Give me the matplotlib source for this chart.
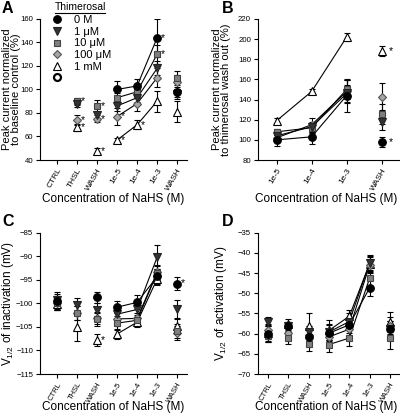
import numpy as np
import matplotlib
matplotlib.use("Agg")
import matplotlib.pyplot as plt
from matplotlib.lines import Line2D

plt.rcParams['font.family'] = ['Liberation Sans', 'DejaVu Sans']
plt.rcParams['mathtext.default'] = 'regular'

nan = np.nan
cats7 = ['CTRL', 'THSL', 'WASH', '1e-5', '1e-4', '1e-3', 'WASH']
cats4 = ['1e-5', '1e-4', '1e-3', 'WASH']
series = ['0 M', '1 \u03bcM', '10 \u03bcM', '100 \u03bcM', '1 mM']

# Panel A
A_vals = {
    '0 M':    [nan, nan, nan, 100, 103, 144, 98],
    '1 \u03bcM':  [nan, 88, 78, 86, 93, 118, 96],
    '10 \u03bcM': [nan, 90, 86, 93, 98, 130, 110],
    '100 \u03bcM': [nan, 74, 75, 77, 88, 110, 106],
    '1 mM':   [nan, 68, 48, 57, 70, 90, 81],
}
A_err = {
    '0 M':    [nan, nan, nan, 7, 6, 16, 4],
    '1 \u03bcM':  [nan, 3, 3, 4, 4, 6, 4],
    '10 \u03bcM': [nan, 3, 5, 4, 5, 8, 6],
    '100 \u03bcM': [nan, 4, 3, 7, 6, 8, 6],
    '1 mM':   [nan, 3, 2, 2, 4, 9, 9],
}
A_star = [('10 \u03bcM', 1), ('100 \u03bcM', 1), ('1 mM', 1), ('10 \u03bcM', 2), ('100 \u03bcM', 2),
          ('1 mM', 2), ('100 \u03bcM', 3), ('1 mM', 3), ('1 mM', 4), ('0 M', 5), ('10 \u03bcM', 5)]

# Panel B
B_vals = {
    '0 M':    [100, 103, 144, 98],
    '1 \u03bcM':  [104, 113, 146, 118],
    '10 \u03bcM': [108, 112, 150, 126],
    '100 \u03bcM': [102, 115, 148, 143],
    '1 mM':   [119, 148, 202, 188],
}
B_err = {
    '0 M':    [6, 7, 16, 5],
    '1 \u03bcM':  [4, 5, 8, 8],
    '10 \u03bcM': [3, 5, 9, 10],
    '100 \u03bcM': [4, 7, 11, 13],
    '1 mM':   [3, 2, 4, 5],
}
B_star = [('1 mM', 3), ('0 M', 3)]

# Panel C
C_vals = {
    '0 M':    [-99.6, nan, -98.7, -100.8, -99.8, -94.3, -95.8],
    '1 \u03bcM':  [-99.2, -100.3, -101.5, -102.3, -101.3, -90.2, -101.2],
    '10 \u03bcM': [-100.0, -102.0, -103.3, -104.2, -103.6, -93.5, -105.9],
    '100 \u03bcM': [-100.0, -102.1, -103.2, -103.3, -103.2, -93.4, -106.3],
    '1 mM':   [-100.2, -105.0, -107.8, -106.5, -104.0, -94.8, -104.8],
}
C_err = {
    '0 M':    [1.5, nan, 1.2, 1.3, 1.5, 1.5, 1.3],
    '1 \u03bcM':  [1.7, 1.5, 1.5, 1.5, 1.5, 2.5, 2.0],
    '10 \u03bcM': [1.5, 1.5, 1.5, 1.5, 1.2, 1.5, 1.5],
    '100 \u03bcM': [1.5, 1.5, 1.2, 1.5, 1.2, 1.5, 1.5],
    '1 mM':   [1.2, 3.0, 1.2, 1.0, 1.0, 1.2, 1.5],
}
C_star = [('1 mM', 2), ('0 M', 6)]

# Panel D
D_vals = {
    '0 M':    [-60.0, -58.2, -60.8, -59.9, -57.8, -48.7, -58.9],
    '1 \u03bcM':  [-57.0, -58.2, -59.7, -59.6, -57.0, -42.6, -58.9],
    '10 \u03bcM': [-60.5, -61.1, -62.5, -62.7, -61.1, -46.3, -61.1],
    '100 \u03bcM': [-59.0, -59.9, -60.3, -60.8, -58.9, -43.0, -58.0],
    '1 mM':   [-59.8, -57.5, -58.0, -59.2, -55.7, -42.7, -57.2],
}
D_err = {
    '0 M':    [2.0, 1.2, 2.0, 2.0, 2.0, 2.0, 2.0],
    '1 \u03bcM':  [1.2, 1.0, 1.5, 2.0, 2.0, 2.0, 2.0],
    '10 \u03bcM': [1.5, 1.4, 1.8, 1.8, 1.9, 2.0, 2.6],
    '100 \u03bcM': [1.5, 1.5, 1.8, 2.0, 2.0, 2.0, 2.0],
    '1 mM':   [2.0, 1.2, 3.0, 2.5, 1.5, 2.0, 2.5],
}

styles = {
    '0 M':    dict(marker='o', mfc='black', mec='black'),
    '1 \u03bcM':  dict(marker='v', mfc='#333333', mec='#222222'),
    '10 \u03bcM': dict(marker='s', mfc='#7f7f7f', mec='#444444'),
    '100 \u03bcM': dict(marker='D', mfc='#a6a6a6', mec='#555555'),
    '1 mM':   dict(marker='^', mfc='white', mec='black'),
}
msizes = {'0 M': 5.5, '1 \u03bcM': 5.5, '10 \u03bcM': 5, '100 \u03bcM': 4.5, '1 mM': 5.5}
order = ['1 mM', '100 \u03bcM', '10 \u03bcM', '1 \u03bcM', '0 M']

LABEL_FS = 8.5

fig = plt.figure(figsize=(4.0, 4.2), dpi=100)
axA = fig.add_axes([0.10, 0.619, 0.368, 0.336])
axB = fig.add_axes([0.645, 0.619, 0.355, 0.336])
axC = fig.add_axes([0.10, 0.1095, 0.368, 0.3365])
axD = fig.add_axes([0.645, 0.1095, 0.355, 0.3365])


def draw(ax, cats, vals, errs, line_idx, stars, ylim, yticks, tick_fs, xlab_x, xlab_y):
    x = np.arange(len(cats))
    for s in order:
        v = np.array(vals[s], float)
        e = np.array(errs[s], float)
        ax.plot(x[line_idx], v[line_idx], color='black', lw=0.8, zorder=2)
        ax.errorbar(x, v, yerr=e, fmt='none', ecolor='black', elinewidth=0.8,
                    capsize=2.2, capthick=0.8, zorder=3)
        st = styles[s]
        ax.plot(x, v, linestyle='none', marker=st['marker'], mfc=st['mfc'],
                mec=st['mec'], mew=0.8, ms=msizes[s], zorder=4)
    for s, i in stars:
        ax.text(x[i] + 0.2, vals[s][i], '*', fontsize=7.5, ha='left',
                va='center', zorder=5)
    ax.set_ylim(*ylim)
    ax.set_yticks(yticks)
    ax.set_xticks(x)
    ax.set_xticklabels(cats, rotation=60, ha='right', rotation_mode='anchor',
                       fontsize=tick_fs)
    ax.tick_params(axis='y', labelsize=5.6, length=3, width=0.8, pad=2)
    ax.tick_params(axis='x', length=3, width=0.8, pad=2)
    for sp in ['top', 'right']:
        ax.spines[sp].set_visible(False)
    for sp in ['left', 'bottom']:
        ax.spines[sp].set_linewidth(0.8)
    ax.set_xlabel('Concentration of NaHS (M)', fontsize=LABEL_FS, va='center')
    ax.xaxis.set_label_coords(xlab_x, xlab_y)


draw(axA, cats7, A_vals, A_err, [3, 4, 5], A_star, (40, 160), np.arange(40, 161, 20),
     6.0, 0.5, -0.277)
axA.set_xlim(-0.85, 6.5)
axA.set_ylabel('Peak current normalized\nto baseline control (%)', fontsize=8.0,
               linespacing=0.85, va='center')
axA.yaxis.set_label_coords(-0.195, 0.5)

draw(axB, cats4, B_vals, B_err, [0, 1, 2], B_star, (80, 220), np.arange(80, 221, 20),
     6.0, 0.48, -0.277)
axB.set_xlim(-0.53, 3.52)
axB.set_ylabel('Peak current normalized\nto thimerosal wash out (%)', fontsize=8.0,
               linespacing=0.85, va='center')
axB.yaxis.set_label_coords(-0.255, 0.5)

draw(axC, cats7, C_vals, C_err, [3, 4, 5], C_star, (-115, -85), np.arange(-115, -84, 5),
     5.5, 0.5, -0.23)
axC.set_xlim(-0.85, 6.5)
axC.set_ylabel('V$_{1/2}$ of inactivation (mV)', fontsize=LABEL_FS, va='center')
axC.yaxis.set_label_coords(-0.215, 0.5)

draw(axD, cats7, D_vals, D_err, [3, 4, 5], [], (-70, -35), np.arange(-70, -34, 5),
     5.5, 0.48, -0.23)
axD.set_xlim(-0.5, 6.5)
axD.set_ylabel('V$_{1/2}$ of activation (mV)', fontsize=LABEL_FS, va='center')
axD.yaxis.set_label_coords(-0.26, 0.5)

# Legend in A
handles = []
for s in series:
    st = styles[s]
    handles.append(Line2D([], [], linestyle='none', marker=st['marker'], mfc=st['mfc'],
                          mec=st['mec'], mew=0.8, ms=msizes[s], label=s))
handles.append(Line2D([], [], linestyle='none', marker='o', mfc='white', mec='black',
                      mew=1.6, ms=5, label=' '))
leg = axA.legend(handles=handles, loc='upper left', bbox_to_anchor=(0.068, 1.025),
                 frameon=False, fontsize=8, handletextpad=1.0, labelspacing=0.14,
                 borderaxespad=0, borderpad=0, handlelength=1.2)
fig.text(0.1375, 0.972, 'Thimerosal', fontsize=7.5, ha='left', va='bottom')
fig.add_artist(Line2D([0.1375, 0.262], [0.969, 0.969], color='black', lw=0.8,
                      transform=fig.transFigure))

# Panel letters
for lbl, xx, yy in [('A', 0.005, 0.997), ('B', 0.555, 0.997), ('C', 0.005, 0.49), ('D', 0.555, 0.49)]:
    fig.text(xx, yy, lbl, fontsize=11.5, fontweight='bold', ha='left', va='top')

fig.savefig('out.png', dpi=100)
